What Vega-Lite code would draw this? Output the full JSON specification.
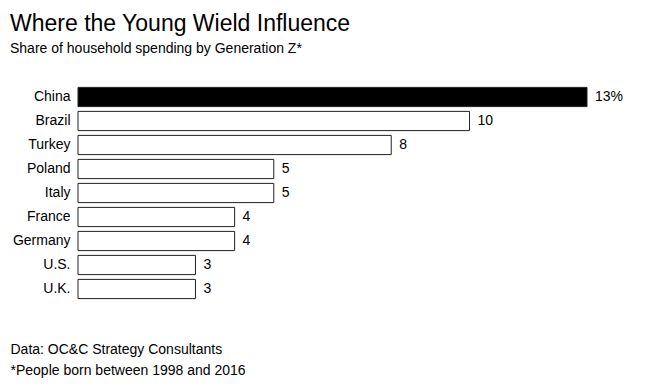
{
  "$schema": "https://vega.github.io/schema/vega-lite/v6.json",
  "autosize": "none",
  "width": 509,
  "height": 216,
  "padding": {"left": 78, "top": 85, "right": 80, "bottom": 84},
  "background": "white",
  "config": {
    "font": "Liberation Sans",
    "view": {"stroke": null}
  },
  "title": {
    "text": "Where the Young Wield Influence",
    "subtitle": "Share of household spending by Generation Z*",
    "anchor": "start",
    "frame": "bounds",
    "fontSize": 23,
    "fontWeight": "normal",
    "color": "#000",
    "subtitleFontSize": 14,
    "subtitleColor": "#000",
    "subtitlePadding": 6,
    "offset": 29
  },
  "data": {
    "values": [
      {"country": "China", "share": 13, "label": "13%"},
      {"country": "Brazil", "share": 10, "label": "10"},
      {"country": "Turkey", "share": 8, "label": "8"},
      {"country": "Poland", "share": 5, "label": "5"},
      {"country": "Italy", "share": 5, "label": "5"},
      {"country": "France", "share": 4, "label": "4"},
      {"country": "Germany", "share": 4, "label": "4"},
      {"country": "U.S.", "share": 3, "label": "3"},
      {"country": "U.K.", "share": 3, "label": "3"}
    ]
  },
  "encoding": {
    "y": {
      "field": "country",
      "type": "nominal",
      "sort": null,
      "scale": {"paddingInner": 0.2, "paddingOuter": 0.1},
      "axis": {
        "title": null,
        "domain": false,
        "ticks": false,
        "labelPadding": 8,
        "labelFontSize": 14,
        "labelColor": "#000"
      }
    },
    "x": {
      "field": "share",
      "type": "quantitative",
      "scale": {"domain": [0, 13], "nice": false},
      "axis": {
        "title": ["Data: OC&C Strategy Consultants", "*People born between 1998 and 2016"],
        "titleFontSize": 14,
        "titleFontWeight": "normal",
        "titleColor": "#000",
        "titleAnchor": "start",
        "titleAlign": "left",
        "titleBaseline": "alphabetic",
        "titleX": -68,
        "titleY": 52,
        "titleLineHeight": 21,
        "labels": false,
        "ticks": false,
        "domain": false,
        "grid": false
      }
    }
  },
  "layer": [
    {
      "mark": {"type": "bar", "stroke": "#222", "strokeWidth": 1},
      "encoding": {
        "fill": {
          "condition": {"test": "datum.country === 'China'", "value": "#000"},
          "value": "#fff"
        }
      }
    },
    {
      "mark": {"type": "text", "align": "left", "dx": 8, "fontSize": 14, "color": "#000"},
      "encoding": {
        "text": {"field": "label"}
      }
    }
  ]
}
